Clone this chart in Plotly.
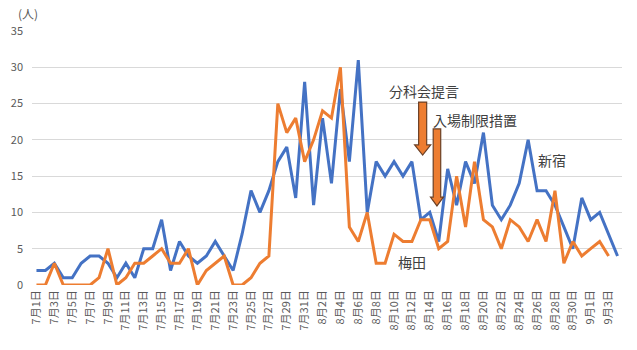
import pandas as pd
import plotly.graph_objects as go

# Daily counts, 1 July - 4 September
dates = pd.date_range("2020-07-01", "2020-09-04", freq="D")
day_labels = [f"{d.month}月{d.day}日" for d in dates]

shinjuku = [
    2, 2, 3, 1, 1, 3, 4, 4, 3, 1,
    3, 1, 5, 5, 9, 2, 6, 4, 3, 4,
    6, 4, 2, 7, 13, 10, 13, 17, 19, 12,
    28,                                   # 7/31
    11, 23, 14, 27, 17, 31, 10, 17, 15, 17,
    15, 17, 9, 10, 6, 16, 11, 17, 14, 21,
    11, 9, 11, 14, 20, 13, 13, 11, 8, 5,
    12,                                   # 8/31
    9, 10, 7, 4,                          # 9/1 - 9/4
]

umeda = [
    0, 0, 3, 0, 0, 0, 0, 1, 5, 0,
    1, 3, 3, 4, 5, 3, 3, 5, 0, 2,
    3, 4, 0, 0, 1, 3, 4, 25, 21, 23,
    17,                                   # 7/31
    20, 24, 23, 30, 8, 6, 10, 3, 3, 7,
    6, 6, 9, 9, 5, 6, 15, 8, 17, 9,
    8, 5, 9, 8, 6, 9, 6, 13, 3, 6,
    4,                                    # 8/31
    5, 6, 4,                              # 9/1 - 9/3
]

y_ticks = [0, 5, 10, 15, 20, 25, 30, 35]

BLUE = "#4472C4"
ORANGE = "#ED7D31"
TEXT = "#404040"
FONT = "Noto Sans CJK JP"

x_idx = list(range(len(dates)))

fig = go.Figure()
fig.add_trace(go.Scatter(
    x=x_idx[:len(shinjuku)], y=shinjuku, mode="lines", name="新宿",
    line=dict(color=BLUE, width=3), hoverinfo="skip",
))
fig.add_trace(go.Scatter(
    x=x_idx[:len(umeda)], y=umeda, mode="lines", name="梅田",
    line=dict(color=ORANGE, width=3), hoverinfo="skip",
))


def block_arrow(xc, y_top, y_base, y_tip, shaft_hw, head_hw):
    """Downward block arrow as an SVG path in data coordinates."""
    pts = [
        (xc - shaft_hw, y_top), (xc + shaft_hw, y_top),
        (xc + shaft_hw, y_base), (xc + head_hw, y_base),
        (xc, y_tip),
        (xc - head_hw, y_base), (xc - shaft_hw, y_base),
    ]
    return "M " + " L ".join(f"{x},{y}" for x, y in pts) + " Z"


arrows = [
    # x centre, top, head base, tip, shaft half-width, head half-width
    (43.2, 25.2, 19.3, 17.9, 0.45, 0.9),
    (44.8, 21.5, 12.1, 10.9, 0.42, 0.72),
]
for a in arrows:
    fig.add_shape(type="path", path=block_arrow(*a), xref="x", yref="y",
                  fillcolor=ORANGE, line=dict(color="#6b4026", width=1.2))

notes = [
    ("分科会提言", 43.4, 26.7),
    ("入場制限措置", 49.1, 22.7),
    ("新宿", 57.7, 17.2),
    ("梅田", 42.0, 3.2),
]
for text, x, y in notes:
    fig.add_annotation(x=x, y=y, xref="x", yref="y", text=text, showarrow=False,
                       font=dict(family=FONT, size=14, color=TEXT))

# unit label above the y axis
fig.add_annotation(xref="paper", yref="paper",
                   x=(16 - 32) / 590, y=1 + (31 - 14) / 254,
                   text="(人)", showarrow=False, xanchor="left", yanchor="middle",
                   font=dict(family=FONT, size=12, color="#595959"))

fig.update_layout(
    width=637, height=350,
    margin=dict(l=32, r=15, t=31, b=65),
    paper_bgcolor="white", plot_bgcolor="white",
    showlegend=False,
    font=dict(family=FONT, color="#595959"),
)

fig.update_xaxes(
    range=[-0.5, len(dates) - 0.5],
    tickmode="array",
    tickvals=x_idx[::2], ticktext=day_labels[::2],
    tickangle=-90, tickfont=dict(size=11, color="#595959"),
    showgrid=False, zeroline=False, showline=False, ticks="",
    ticklabelstandoff=2, fixedrange=True,
)
fig.update_yaxes(
    range=[0, 35], tickvals=y_ticks,
    tickfont=dict(size=11, color="#595959"),
    showgrid=True, gridcolor="#D9D9D9", gridwidth=1,
    zeroline=False, showline=False, ticks="",
    ticklabelstandoff=8, fixedrange=True,
)

fig.write_html("out.html")
